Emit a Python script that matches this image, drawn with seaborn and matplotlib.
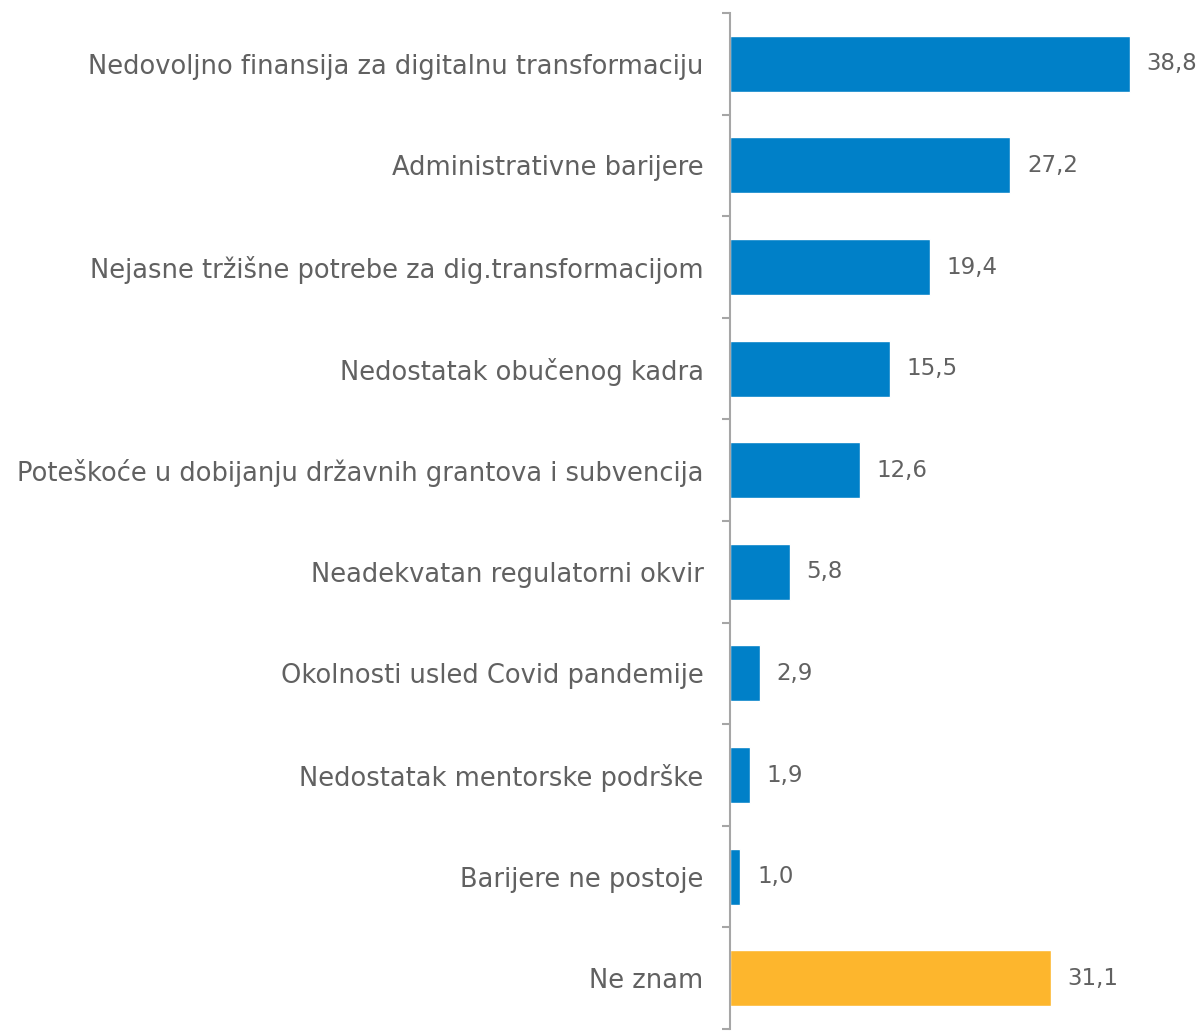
"""
Barijere za digitalnu transformaciju
"""
import matplotlib.pyplot as plt
import seaborn as sns
from matplotlib.ticker import FixedLocator

categories = [
    "Nedovoljno finansija za digitalnu transformaciju",
    "Administrativne barijere",
    "Nejasne tržišne potrebe za dig.transformacijom",
    "Nedostatak obučenog kadra",
    "Poteškoće u dobijanju državnih grantova i subvencija",
    "Neadekvatan regulatorni okvir",
    "Okolnosti usled Covid pandemije",
    "Nedostatak mentorske podrške",
    "Barijere ne postoje",
    "Ne znam",
]
values = [38.8, 27.2, 19.4, 15.5, 12.6, 5.8, 2.9, 1.9, 1.0, 31.1]
colors = ["#0080C8"] * 9 + ["#FDB62D"]
text_color = "#616161"

sns.set_style("white")
plt.rcParams["font.family"] = ["DejaVu Sans"]

fig = plt.figure(figsize=(12.02, 10.31), dpi=100)
ax = fig.add_axes([0.6073, 0.0019, 0.3860, 0.9855])

sns.barplot(x=values, y=categories, hue=categories, palette=colors,
            legend=False, orient="h", width=0.55, saturation=1, ax=ax)

ax.set_xlim(0, 45)
ax.set_ylim(len(categories) - 0.5, -0.5)
ax.set_xlabel("")
ax.set_ylabel("")
ax.set_xticks([])

for s in ["top", "right", "bottom"]:
    ax.spines[s].set_visible(False)
ax.spines["left"].set_color("#A6A6A6")
ax.spines["left"].set_linewidth(1.5)

ax.tick_params(axis="y", which="major", length=0, pad=19, labelsize=18.5, labelcolor=text_color)
ax.yaxis.set_minor_locator(FixedLocator([i - 0.5 for i in range(len(categories) + 1)]))
ax.tick_params(axis="y", which="minor", left=True, length=6, width=1.5, color="#A6A6A6")

for container in ax.containers:
    ax.bar_label(container, labels=[f"{v:.1f}".replace(".", ",") for v in container.datavalues],
                 padding=12, fontsize=16.5, color=text_color)

fig.savefig("out.png", dpi=100)
